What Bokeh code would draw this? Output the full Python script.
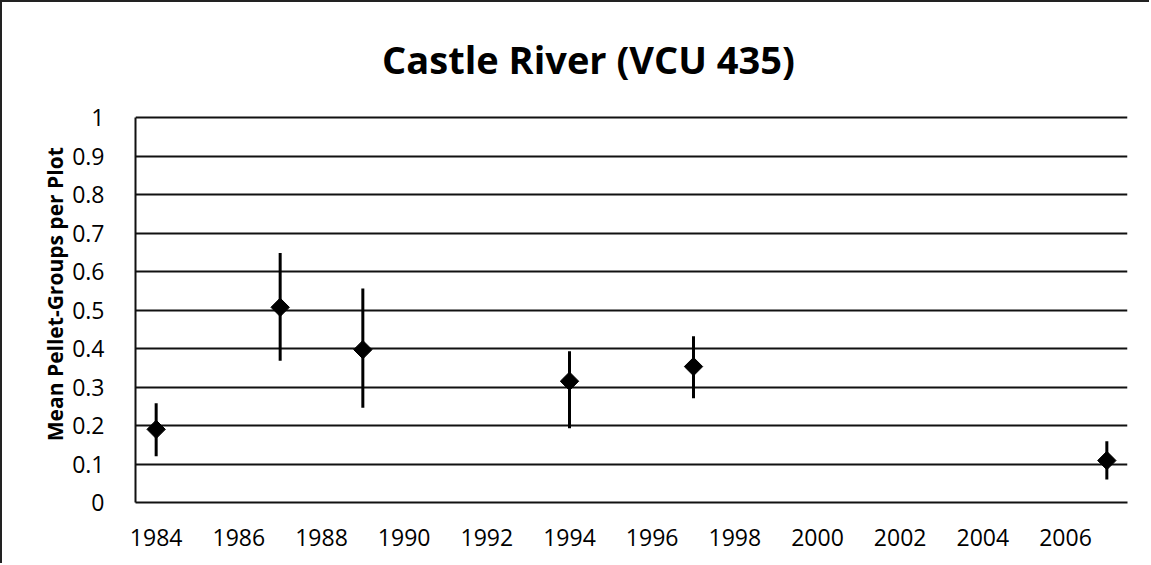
import numpy as np
from bokeh.plotting import figure
from bokeh.models import Range1d, FixedTicker, CustomJSTickFormatter
from bokeh.core.properties import value
from bokeh.embed import file_html
from bokeh.resources import INLINE

# ---- data ----
years = [1984, 1987, 1989, 1994, 1997, 2007]
means = [0.19, 0.507, 0.397, 0.315, 0.353, 0.109]
lower = [0.12, 0.368, 0.246, 0.193, 0.271, 0.060]
upper = [0.258, 0.648, 0.556, 0.393, 0.432, 0.159]
x_ticks = [1984, 1986, 1988, 1990, 1992, 1994, 1996, 1998, 2000, 2002, 2004, 2006]
y_ticks = [0, 0.1, 0.2, 0.3, 0.4, 0.5, 0.6, 0.7, 0.8, 0.9, 1.0]
title_text = "Castle River (VCU 435)"
y_label_text = "Mean Pellet-Groups per Plot"

# layout: value axis 0..1 spans 385 px; the frame extends above it to hold the title
frame_top_border = 18          # px from canvas top to frame top
unit_px = 385.0                # px for 1.0 on the y axis
top_extra_px = 115 - frame_top_border
y_end = 1.0 + top_extra_px / unit_px

p = figure(width=1149, height=563, output_backend="svg", toolbar_location=None,
           x_range=Range1d(1983.5, 2007.5), y_range=Range1d(0, y_end),
           min_border_left=133, min_border_right=24, min_border_top=frame_top_border,
           min_border_bottom=63,
           styles={"border-left": "2px solid #222", "border-top": "2px solid #222"})
p.outline_line_color = None
p.background_fill_color = "white"
p.border_fill_color = "white"

# axes
p.xaxis.ticker = FixedTicker(ticks=x_ticks)
p.yaxis.ticker = FixedTicker(ticks=y_ticks)
p.yaxis.bounds = (0, 1)
p.yaxis.formatter = CustomJSTickFormatter(code="return String(Math.round(tick*10)/10);")
for ax in (p.xaxis, p.yaxis):
    ax.major_tick_line_color = None
    ax.minor_tick_line_color = None
    ax.major_label_text_font = "Open Sans"
    ax.major_label_text_font_size = "23px"
    ax.major_label_text_color = "black"
    ax.axis_line_color = "#111111"
    ax.axis_line_width = 2
p.yaxis.major_label_standoff = 25
p.xaxis.major_label_standoff = 20

# trailing no-break spaces shift the visible label down to sit beside the 0..1 axis
p.yaxis.axis_label = y_label_text + "\u00a0" * 12
p.yaxis.axis_label_text_font = "Open Sans"
p.yaxis.axis_label_text_font_style = "bold"
p.yaxis.axis_label_text_font_size = "21px"
p.yaxis.axis_label_text_color = "black"
p.yaxis.axis_label_standoff = 0

# grid
p.xgrid.grid_line_color = None
p.ygrid.grid_line_color = "#111111"
p.ygrid.grid_line_width = 2

# error bars and markers
p.segment(x0=years, y0=lower, x1=years, y1=upper, line_color="black", line_width=3)
p.scatter(x=years, y=means, marker="square", size=13, angle=np.pi / 4,
          fill_color="black", line_color="black")

# title, drawn inside the (extended) frame above the value axis
p.text(x=[1994.46], y=[1.153], text=[title_text], text_align="center",
       text_baseline="alphabetic", text_font=value("Open Sans"),
       text_font_style="bold", text_font_size=value("38px"), text_color="black")

open("out.html", "w").write(file_html(p, INLINE))
